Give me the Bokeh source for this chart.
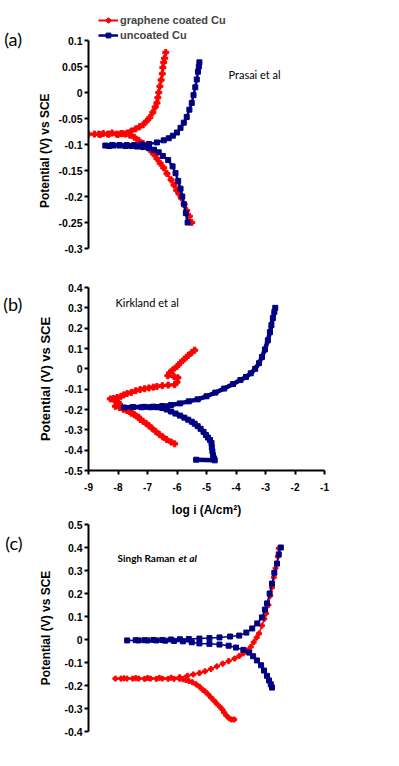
import math
from bokeh.plotting import figure
from bokeh.layouts import column
from bokeh.models import Label, Legend, LegendItem, Range1d, FixedTicker
from bokeh.embed import file_html
from bokeh.resources import INLINE

RED = "#FF0000"
BLUE = "#000080"

# ---------------- Panel (a): Prasai et al ----------------
a_red_x = [-5.50, -5.58, -5.67, -5.76, -5.85, -5.93, -6.01, -6.10, -6.20, -6.34, -6.45, -6.57, -6.68,
           -6.80, -6.92, -7.05, -7.15, -7.30, -7.45, -7.60, -7.75, -7.90, -8.05, -8.20, -8.35, -8.50,
           -8.65, -8.80, -9.00,
           -8.60, -8.30, -8.00, -7.85, -7.69, -7.55, -7.40, -7.27, -7.15, -7.03, -6.92, -6.82, -6.74,
           -6.68, -6.65, -6.62, -6.58, -6.54, -6.50, -6.48, -6.45, -6.42, -6.38]
a_red_y = [-0.250, -0.238, -0.227, -0.215, -0.203, -0.195, -0.188, -0.178, -0.168, -0.156, -0.145, -0.136, -0.127,
           -0.118, -0.110, -0.103, -0.098, -0.092, -0.086, -0.082, -0.080, -0.079, -0.080, -0.078, -0.080, -0.079,
           -0.080, -0.080, -0.080,
           -0.081, -0.080, -0.081, -0.079, -0.078, -0.074, -0.070, -0.066, -0.062, -0.055, -0.048, -0.038, -0.028,
           -0.020, -0.010, 0.000, 0.012, 0.024, 0.036, 0.048, 0.058, 0.066, 0.077]

a_blue_x = [-5.64, -5.70, -5.76, -5.82, -5.88, -5.96, -6.05, -6.15, -6.30, -6.48, -6.62, -6.78, -6.95, -7.15,
            -7.35, -7.55, -7.75, -7.95, -8.15, -8.30, -8.43,
            -8.20, -7.95, -7.70, -7.45, -7.20, -6.95, -6.68, -6.45, -6.28, -6.14, -6.00, -5.88, -5.77, -5.67,
            -5.58, -5.50, -5.44, -5.38, -5.33, -5.29, -5.26, -5.24]
a_blue_y = [-0.250, -0.232, -0.215, -0.200, -0.185, -0.170, -0.155, -0.142, -0.130, -0.122, -0.115, -0.110, -0.107, -0.105,
            -0.104, -0.103, -0.103, -0.102, -0.102, -0.103, -0.102,
            -0.101, -0.101, -0.101, -0.101, -0.100, -0.099, -0.096, -0.092, -0.088, -0.083, -0.077, -0.068, -0.058, -0.047,
            -0.033, -0.020, -0.005, 0.010, 0.025, 0.040, 0.050, 0.058]

a_yticks = [0.1, 0.05, 0.0, -0.05, -0.1, -0.15, -0.2, -0.25, -0.3]
a_ylabels = ["0.1", "0.05", "0", "-0.05", "-0.1", "-0.15", "-0.2", "-0.25", "-0.3"]

# ---------------- Panel (b): Kirkland et al ----------------
b_red_x = [-6.08, -6.20, -6.35, -6.48, -6.60, -6.72, -6.85, -6.95, -7.05, -7.15, -7.25, -7.30, -7.38, -7.45,
           -7.55, -7.60, -7.70, -7.82, -7.95, -8.09, -7.95, -7.99, -8.10, -8.26, -8.15, -8.03, -7.90, -7.80,
           -7.69, -7.55, -7.40, -7.25, -7.10, -6.95, -6.80, -6.68, -6.50, -6.30, -6.08, -6.00, -5.97, -6.10,
           -6.31, -6.25, -6.14, -6.00, -5.88, -5.75, -5.62, -5.50, -5.40]
b_red_y = [-0.369, -0.360, -0.348, -0.335, -0.322, -0.308, -0.292, -0.280, -0.268, -0.258, -0.248, -0.238, -0.232, -0.225,
           -0.218, -0.210, -0.205, -0.199, -0.190, -0.184, -0.175, -0.165, -0.158, -0.148, -0.146, -0.141, -0.135, -0.128,
           -0.121, -0.116, -0.108, -0.102, -0.098, -0.094, -0.090, -0.087, -0.083, -0.080, -0.078, -0.065, -0.044, -0.038,
           -0.034, -0.020, -0.005, 0.012, 0.030, 0.048, 0.066, 0.080, 0.092]

b_blue_x = [-5.35, -4.72, -4.75, -4.78, -4.80, -4.82, -4.83, -4.88, -4.95, -5.02, -5.10, -5.20, -5.30, -5.40,
            -5.50, -5.62, -5.75, -5.90, -6.05, -6.20, -6.35, -6.50, -6.68, -6.90, -7.20, -7.50, -7.80,
            -7.50, -7.10, -6.80, -6.50, -6.20, -5.90, -5.60, -5.30, -5.00, -4.70, -4.40, -4.10, -3.85, -3.66,
            -3.50, -3.35, -3.22, -3.12, -3.02, -2.92, -2.85, -2.80, -2.75, -2.70, -2.67]
b_blue_y = [-0.447, -0.450, -0.440, -0.425, -0.405, -0.385, -0.365, -0.350, -0.338, -0.325, -0.310, -0.295, -0.282, -0.270,
            -0.260, -0.250, -0.240, -0.230, -0.220, -0.210, -0.200, -0.193, -0.189, -0.189, -0.189, -0.189, -0.190,
            -0.188, -0.187, -0.186, -0.183, -0.178, -0.170, -0.160, -0.150, -0.135, -0.117, -0.097, -0.075, -0.055, -0.040,
            -0.022, 0.000, 0.028, 0.058, 0.095, 0.140, 0.180, 0.215, 0.250, 0.280, 0.300]

b_yticks = [0.4, 0.3, 0.2, 0.1, 0.0, -0.1, -0.2, -0.3, -0.4, -0.5]
b_ylabels = ["0.4", "0.3", "0.2", "0.1", "0", "-0.1", "-0.2", "-0.3", "-0.4", "-0.5"]
b_xticks = [-9, -8, -7, -6, -5, -4, -3, -2, -1]
b_xlabels = ["-9", "-8", "-7", "-6", "-5", "-4", "-3", "-2", "-1"]

# ---------------- Panel (c): Singh Raman et al ----------------
c_red_x = [-4.06, -4.15, -4.23, -4.33, -4.40, -4.46, -4.55, -4.66, -4.75, -4.85, -4.95, -5.05, -5.13, -5.24,
           -5.35, -5.48, -5.60, -5.70, -5.80, -5.91, -6.10, -6.30, -6.50, -6.70, -6.90, -7.10, -7.30, -7.50,
           -7.70, -7.90, -8.09,
           -7.80, -7.40, -7.00, -6.60, -6.20, -5.91, -5.65, -5.45, -5.24, -5.05, -4.85, -4.65, -4.45, -4.25,
           -4.05, -3.89, -3.75, -3.62, -3.50, -3.40, -3.30, -3.22, -3.12, -3.04, -2.98, -2.90, -2.84, -2.78,
           -2.72, -2.66, -2.61, -2.58, -2.55]
c_red_y = [-0.348, -0.348, -0.343, -0.330, -0.318, -0.305, -0.292, -0.278, -0.265, -0.252, -0.238, -0.226, -0.218, -0.205,
           -0.195, -0.186, -0.180, -0.176, -0.173, -0.171, -0.171, -0.171, -0.170, -0.171, -0.170, -0.171, -0.170, -0.170,
           -0.170, -0.170, -0.170,
           -0.169, -0.168, -0.168, -0.167, -0.166, -0.164, -0.158, -0.152, -0.146, -0.138, -0.128, -0.117, -0.105, -0.094,
           -0.083, -0.072, -0.060, -0.048, -0.032, -0.012, 0.008, 0.026, 0.060, 0.090, 0.113, 0.150, 0.190, 0.226,
           0.270, 0.310, 0.330, 0.360, 0.396]

c_blue_x = [-2.78, -2.82, -2.88, -2.95, -3.05, -3.15, -3.29, -3.42, -3.55, -3.75, -4.00, -4.25, -4.56, -4.90,
            -5.24, -5.50, -5.80, -6.10, -6.40, -6.70, -7.00, -7.30, -7.69,
            -7.40, -7.10, -6.80, -6.50, -6.20, -5.90, -5.60, -5.24, -4.90, -4.56, -4.20, -3.89, -3.65, -3.45,
            -3.28, -3.12, -3.02, -2.95, -2.86, -2.78, -2.70, -2.61, -2.55, -2.48]
c_blue_y = [-0.209, -0.195, -0.178, -0.158, -0.135, -0.112, -0.091, -0.073, -0.057, -0.045, -0.035, -0.027, -0.022, -0.019,
            -0.017, -0.012, -0.008, -0.006, -0.005, -0.004, -0.004, -0.004, -0.004,
            -0.003, -0.003, -0.002, -0.002, 0.000, 0.001, 0.002, 0.004, 0.006, 0.009, 0.013, 0.017, 0.030, 0.048,
            0.070, 0.096, 0.130, 0.157, 0.200, 0.243, 0.290, 0.330, 0.370, 0.400]

c_yticks = [0.5, 0.4, 0.3, 0.2, 0.1, 0.0, -0.1, -0.2, -0.3, -0.4]
c_ylabels = ["0.5", "0.4", "0.3", "0.2", "0.1", "0", "-0.1", "-0.2", "-0.3", "-0.4"]

LEGEND_LABELS = ["graphene coated Cu", "uncoated Cu"]
PANEL_TAGS = ["(a)", "(b)", "(c)"]
Y_TITLE = "Potential (V) vs SCE"
X_TITLE = "log i (A/cm\u00b2)"

TICK_FONT = "Liberation Sans"
NOTE_FONT = "Lato"
W = 399


def make_fig(height, bl, br, bt, bb, xr, yr):
    p = figure(width=W, height=height, x_range=Range1d(*xr), y_range=Range1d(*yr),
               output_backend="svg", toolbar_location=None,
               min_border_left=bl, min_border_right=br, min_border_top=bt, min_border_bottom=bb)
    p.grid.visible = False
    p.outline_line_color = None
    p.background_fill_color = "white"
    return p


def style_axis(ax, ticks, labels, title, title_size, title_standoff, tick_size="10.5px"):
    ax.ticker = FixedTicker(ticks=ticks)
    ax.major_label_overrides = {t: l for t, l in zip(ticks, labels)}
    ax.axis_line_width = 2
    ax.axis_line_color = "black"
    ax.major_tick_line_width = 2
    ax.major_tick_line_color = "black"
    ax.major_tick_out = 4
    ax.major_tick_in = 0
    ax.minor_tick_line_color = None
    ax.major_label_text_font = TICK_FONT
    ax.major_label_text_font_style = "bold"
    ax.major_label_text_font_size = tick_size
    ax.major_label_text_color = "black"
    ax.major_label_standoff = 2
    ax.axis_label = title
    ax.axis_label_text_font = TICK_FONT
    ax.axis_label_text_font_style = "bold"
    ax.axis_label_text_font_size = title_size
    ax.axis_label_text_color = "black"
    ax.axis_label_standoff = title_standoff


def add_series(p, x, y, color, marker, lw, ms):
    r1 = p.line(x, y, line_color=color, line_width=lw)
    r2 = p.scatter(x, y, marker=marker, size=ms, fill_color=color, line_color=color)
    return [r1, r2]


def note(p, x, y, text, size, style="normal", font=NOTE_FONT):
    p.add_layout(Label(x=x, y=y, x_units="screen", y_units="screen", text=text,
                       text_font=font, text_font_size=size, text_font_style=style,
                       text_baseline="middle", text_align="left", text_color="black"))


def tag(p, x, y, text):
    # placed in the left side panel (data coordinates of the panel's scales)
    p.add_layout(Label(x=x, y=y, text=text, text_font=NOTE_FONT, text_font_size="18px",
                       text_baseline="middle", text_align="left", text_color="black"), "left")


# ---- figure (a): page y 0..268, frame 10..248 (y 0.1 at 40), x 87..325
pa = make_fig(268, 87, 74, 10, 20, (-9, -1), (-0.3, 0.1 + 30 * 0.05 / 26))
pa.xaxis.visible = False
style_axis(pa.yaxis[0], a_yticks, a_ylabels, None, "12px", 6)
pa.yaxis.bounds = (-0.3, 0.1)
ra = add_series(pa, a_red_x, a_red_y, RED, "plus", 2, 6)
rb = add_series(pa, a_blue_x, a_blue_y, BLUE, "square", 2.5, 5)
legend = Legend(items=[LegendItem(label=LEGEND_LABELS[0], renderers=ra),
                       LegendItem(label=LEGEND_LABELS[1], renderers=rb)],
                location=(10, 207), padding=0, spacing=3, margin=0,
                glyph_width=20, glyph_height=12, label_height=12, label_standoff=2,
                label_text_font=TICK_FONT, label_text_font_style="bold", label_text_font_size="11px",
                border_line_color=None, background_fill_alpha=0)
pa.add_layout(legend)
note(pa, 140, 174, "Prasai et al", "11px")
tag(pa, -11.86, 0.102, PANEL_TAGS[0])
# y title of panel (a), centred on the drawn axis span (-0.3 .. 0.1)
pa.add_layout(Label(x=-10.48, y=-0.112, text=Y_TITLE, angle=math.pi / 2,
                    text_font=TICK_FONT, text_font_style="bold", text_font_size="12px",
                    text_align="center", text_baseline="middle", text_color="black"), "left")

# ---- figure (b): page y 268..519, frame 287..472, x 88..326
pb = make_fig(251, 88, 73, 19, 47, (-9, -1), (-0.5, 0.4))
style_axis(pb.yaxis[0], b_yticks, b_ylabels, Y_TITLE, "13px", 8)
style_axis(pb.xaxis[0], b_xticks, b_xlabels, X_TITLE, "12px", 9, "10px")
pb.xaxis.major_label_standoff = 8
add_series(pb, b_red_x, b_red_y, RED, "plus", 3, 6)
add_series(pb, b_blue_x, b_blue_y, BLUE, "square", 4.5, 5)
note(pb, 27, 168, "Kirkland et al", "11px")
tag(pb, -11.89, 0.32, PANEL_TAGS[1])

# ---- figure (c): page y 519..766, frame 524..731, x 86..324
pc = make_fig(247, 86, 75, 5, 35, (-9, -1), (-0.4, 0.5))
pc.xaxis.visible = False
style_axis(pc.yaxis[0], c_yticks, c_ylabels, Y_TITLE, "12px", 8)
add_series(pc, c_red_x, c_red_y, RED, "plus", 1.5, 5)
add_series(pc, c_blue_x, c_blue_y, BLUE, "square", 1.5, 5)
note(pc, 29, 174, "Singh Raman", "10px", "bold")
note(pc, 90, 174, "et al", "10px", "bold italic")
tag(pc, -11.82, 0.418, PANEL_TAGS[2])

layout = column(pa, pb, pc, spacing=0)
open("out.html", "w").write(file_html(layout, INLINE))
